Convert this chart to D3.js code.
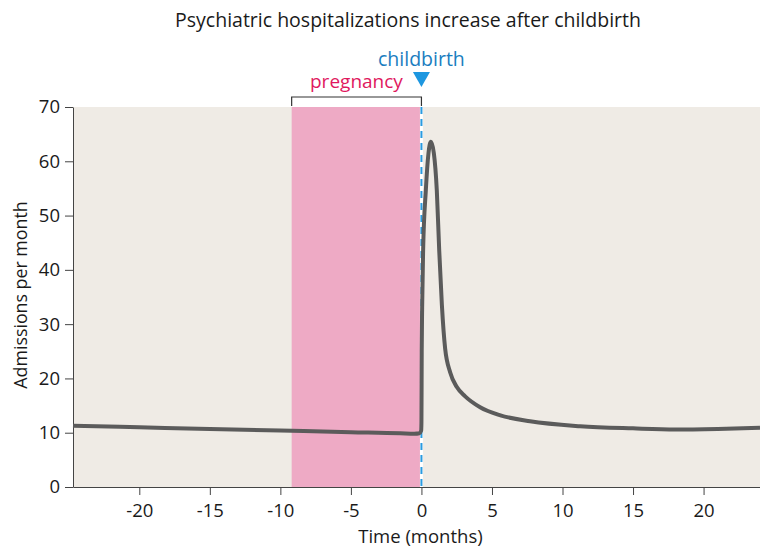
<!DOCTYPE html>
<html>
<head>
<meta charset="utf-8">
<script src="https://cdn.jsdelivr.net/npm/d3@7"></script>
<style>
  body { margin: 0; background: #fff; }
  text { font-family: "Open Sans", sans-serif; }
</style>
</head>
<body>
<div id="chart"></div>
<script>
// months relative to childbirth, and admissions per month
const months = [-24.7, -20, -15, -10, -5, -1.5, -0.5, -0.15, -0.02, 0.0, 0.02, 0.05, 0.12, 0.31, 0.5, 0.67, 0.88, 1.09, 1.26, 1.45, 1.68, 2.04, 2.51, 3.1, 4.16, 5.6, 7.7, 11.25, 15, 18, 21, 24];
const admissions = [11.3, 11.0, 10.7, 10.4, 10.1, 9.9, 9.8, 9.9, 10.4, 12, 25, 33, 43.6, 54.6, 61.5, 63.6, 61.5, 54.6, 43.6, 33.5, 25.5, 21.1, 18.4, 16.7, 14.7, 13.2, 12.1, 11.2, 10.8, 10.6, 10.7, 10.9];
const xTicks = [-20, -15, -10, -5, 0, 5, 10, 15, 20];
const yTicks = [0, 10, 20, 30, 40, 50, 60, 70];
const pregnancy = [-9.2, -0.1];
const birth = 0;

const data = months.map((m, i) => ({ m: m, v: admissions[i] }));

var margin = {top: 107, right: 0, bottom: 64, left: 73},
  width = 760 - margin.left - margin.right,
  height = 551 - margin.top - margin.bottom;

var svg = d3.select("#chart")
  .append("svg")
  .attr("width", 760)
  .attr("height", 551);

var g = svg.append("g")
  .attr("transform", "translate(" + margin.left + "," + margin.top + ")");

const x = d3.scaleLinear().domain([-24.7, 24]).range([0, width]);
const y = d3.scaleLinear().domain([0, 70]).range([height, 0]);

// background panel
g.append("rect")
  .attr("x", 0).attr("y", 0)
  .attr("width", width).attr("height", height)
  .attr("fill", "#efebe5");

// pregnancy band
g.append("rect")
  .attr("x", x(pregnancy[0]))
  .attr("y", 0)
  .attr("width", x(pregnancy[1]) - x(pregnancy[0]))
  .attr("height", height)
  .attr("fill", "#eeaac5");

// childbirth dashed marker
g.append("line")
  .attr("x1", x(birth)).attr("x2", x(birth))
  .attr("y1", 0).attr("y2", height)
  .attr("stroke", "#fff").attr("stroke-width", 3);
g.append("line")
  .attr("x1", x(birth)).attr("x2", x(birth))
  .attr("y1", 0).attr("y2", height)
  .attr("stroke", "#2a9be0").attr("stroke-width", 2)
  .attr("stroke-dasharray", "7,5");

// axes
const yAxis = g.append("g")
  .call(d3.axisLeft(y).tickValues(yTicks).tickSize(8).tickSizeOuter(0));
const xAxis = g.append("g")
  .attr("transform", `translate(0, ${height})`)
  .call(d3.axisBottom(x).tickValues(xTicks).tickFormat(d => String(d)).tickSize(8).tickSizeOuter(0));

[xAxis, yAxis].forEach(a => {
  a.selectAll("path, line").attr("stroke", "#444").attr("stroke-width", 1);
  a.selectAll("text")
    .attr("fill", "#1a1a1a")
    .style("font-size", "18.5px")
    .style("font-family", "'Open Sans', sans-serif");
});
yAxis.selectAll("text").attr("x", -13);
xAxis.selectAll("text").attr("y", 17);

// the admissions curve
const line = d3.line()
  .x(d => x(d.m))
  .y(d => y(d.v))
  .curve(d3.curveMonotoneX);

g.append("path")
  .datum(data)
  .attr("fill", "none")
  .attr("stroke", "#5b5b5b")
  .attr("stroke-width", 4)
  .attr("stroke-linejoin", "round")
  .attr("d", line);

// pregnancy bracket
g.append("path")
  .attr("d", `M${x(pregnancy[0])},${-1} V${-10} H${x(birth)} V${-1}`)
  .attr("fill", "none")
  .attr("stroke", "#333")
  .attr("stroke-width", 1.2);

g.append("text")
  .attr("x", x(birth) - 65)
  .attr("y", -19)
  .attr("text-anchor", "middle")
  .attr("fill", "#e0185e")
  .style("font-size", "19px")
  .text("pregnancy");

// childbirth arrow and label
g.append("path")
  .attr("d", `M${x(birth) - 8.5},${-35} L${x(birth) + 8.5},${-35} L${x(birth)},${-20} Z`)
  .attr("fill", "#1d97e0");

g.append("text")
  .attr("x", x(birth))
  .attr("y", -41)
  .attr("text-anchor", "middle")
  .attr("fill", "#1a7dc0")
  .style("font-size", "19.5px")
  .text("childbirth");

// axis titles
g.append("text")
  .attr("x", x(0) - 1)
  .attr("y", height + 56)
  .attr("text-anchor", "middle")
  .attr("fill", "#1a1a1a")
  .style("font-size", "18.5px")
  .text("Time (months)");

g.append("text")
  .attr("transform", "rotate(-90)")
  .attr("x", -(295 - margin.top))
  .attr("y", -46)
  .attr("text-anchor", "middle")
  .attr("fill", "#1a1a1a")
  .style("font-size", "17.8px")
  .text("Admissions per month");

// title
svg.append("text")
  .attr("x", 408)
  .attr("y", 27)
  .attr("text-anchor", "middle")
  .attr("fill", "#1a1a1a")
  .style("font-size", "19.5px")
  .text("Psychiatric hospitalizations increase after childbirth");
</script>
</body>
</html>
